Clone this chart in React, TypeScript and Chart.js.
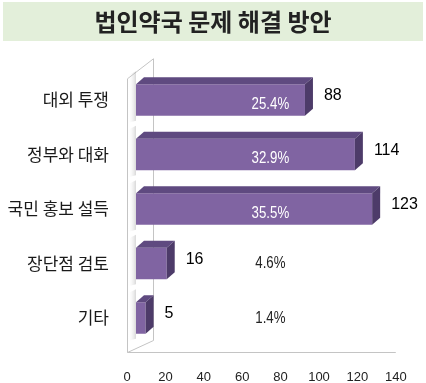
import React, { useEffect, useRef } from "react";
import { Chart, registerables } from "chart.js";

Chart.register(...registerables);

const titleText = "법인약국 문제 해결 방안";
const categories = ["대외 투쟁", "정부와 대화", "국민 홍보 설득", "장단점 검토", "기타"];
const counts = [88, 114, 123, 16, 5];
const percents = ["25.4%", "32.9%", "35.5%", "4.6%", "1.4%"];
const percentAnchor = 70;
const xMin = 0;
const xMax = 140;
const xStep = 20;

const FRONT = "#8064a2";
const TOP = "#5f4a80";
const SIDE = "#4d3b69";
const DX = 8;
const DY = -7;
const AXIS_SHIFT = -9;

const depthPlugin = {
  id: "depth3d",
  beforeDraw(chart: any) {
    const { ctx } = chart;
    ctx.save();
    ctx.fillStyle = "#e3efda";
    ctx.fillRect(3, 2, 420, 39);
    ctx.restore();
  },
  beforeDatasetsDraw(chart: any) {
    const { ctx, chartArea, scales } = chart;
    const x = scales.x;
    const fx = Math.round(x.getPixelForValue(xMin) + AXIS_SHIFT) + 0.5;
    const bx = fx + 26;
    const tf = chartArea.top + 6;
    const tb = tf - 20;
    const bf = Math.round(chartArea.bottom + 7) + 0.5;
    const bb = bf - 12;
    ctx.save();
    ctx.strokeStyle = "#c4c4c4";
    ctx.lineWidth = 1;
    ctx.beginPath();
    ctx.moveTo(fx, bf);
    ctx.lineTo(fx, tf);
    ctx.lineTo(bx, tb);
    ctx.lineTo(bx, bb);
    ctx.closePath();
    ctx.stroke();
    ctx.beginPath();
    ctx.moveTo(fx, bf);
    ctx.lineTo(x.getPixelForValue(xMax) + AXIS_SHIFT, bf);
    ctx.stroke();
    const meta = chart.getDatasetMeta(0);
    meta.data.forEach((bar: any) => {
      const p = bar.getProps(["x", "y", "base", "height"], true);
      const top = p.y - p.height / 2;
      const g = ctx.createLinearGradient(p.base - 8, 0, p.base + 2, 0);
      g.addColorStop(0, "rgba(255,255,255,0)");
      g.addColorStop(1, "rgba(120,120,120,0.45)");
      ctx.fillStyle = g;
      ctx.beginPath();
      ctx.moveTo(p.base - 8, top + DY - 2);
      ctx.lineTo(p.base, top + DY - 6);
      ctx.lineTo(p.base, top + p.height + 5);
      ctx.lineTo(p.base - 8, top + p.height + 7);
      ctx.closePath();
      ctx.fill();
    });
    ctx.restore();
  },
  afterDatasetsDraw(chart: any) {
    const { ctx, scales } = chart;
    const x = scales.x;
    const meta = chart.getDatasetMeta(0);
    ctx.save();
    meta.data.forEach((bar: any, i: number) => {
      const p = bar.getProps(["x", "y", "base", "height"], true);
      const top = p.y - p.height / 2;
      const bottom = p.y + p.height / 2;
      ctx.fillStyle = TOP;
      ctx.beginPath();
      ctx.moveTo(p.base, top);
      ctx.lineTo(p.base + DX, top + DY);
      ctx.lineTo(p.x + DX, top + DY);
      ctx.lineTo(p.x, top);
      ctx.closePath();
      ctx.fill();
      ctx.fillStyle = SIDE;
      ctx.beginPath();
      ctx.moveTo(p.x, top);
      ctx.lineTo(p.x + DX, top + DY);
      ctx.lineTo(p.x + DX, bottom + DY);
      ctx.lineTo(p.x, bottom);
      ctx.closePath();
      ctx.fill();
      ctx.fillStyle = "#000";
      ctx.font = "16px 'Liberation Sans', sans-serif";
      ctx.textAlign = "left";
      ctx.textBaseline = "middle";
      ctx.fillText(String(counts[i]), p.x + 19, p.y - 4);
      const px = x.getPixelForValue(percentAnchor);
      const inside = px < p.x;
      ctx.save();
      ctx.fillStyle = inside ? "#ffffff" : "#222222";
      ctx.font = "17px 'Liberation Sans', sans-serif";
      ctx.textAlign = "center";
      ctx.translate(px, p.y + (inside ? 4 : 0));
      ctx.scale(0.78, 1);
      ctx.fillText(percents[i], 0, 0);
      ctx.restore();
    });
    ctx.restore();
  },
};

export default function App() {
  const ref = useRef<HTMLCanvasElement | null>(null);
  useEffect(() => {
    if (!ref.current) return;
    const chart = new Chart(ref.current, {
      type: "bar",
      data: {
        labels: categories,
        datasets: [
          {
            data: counts,
            backgroundColor: FRONT,
            borderWidth: 0,
            categoryPercentage: 1,
            barPercentage: 0.58,
          },
        ],
      },
      options: {
        indexAxis: "y",
        animation: false,
        responsive: false,
        layout: { padding: 0 },
        plugins: {
          legend: { display: false },
          tooltip: { enabled: false },
          title: {
            display: true,
            text: titleText,
            color: "#222222",
            font: { size: 24, family: "'Noto Sans CJK KR', sans-serif", weight: "bold", lineHeight: 1.25 },
            padding: { top: 6.5, bottom: 36.25 },
          },
        },
        scales: {
          x: {
            min: xMin,
            max: xMax,
            grid: { display: false },
            border: { display: false },
            ticks: {
              stepSize: xStep,
              labelOffset: AXIS_SHIFT,
              padding: 16,
              color: "#222222",
              font: { size: 13, family: "'Liberation Sans', sans-serif" },
            },
            afterFit(scale: any) {
              scale.height = 37.75;
              scale.paddingRight = 21.2;
              scale.paddingLeft = 0;
            },
          },
          y: {
            grid: { display: false, drawTicks: false },
            border: { display: false },
            ticks: {
              padding: 27,
              color: "#1a1a1a",
              font: { size: 17, family: "'Noto Sans CJK KR', sans-serif" },
            },
            afterFit(scale: any) {
              scale.width = 136;
            },
          },
        },
      },
      plugins: [depthPlugin],
    });
    return () => chart.destroy();
  }, []);
  return (
    <div style={{ position: "absolute", left: 0, top: 0, width: 426, height: 383 }}>
      <canvas ref={ref} width={426} height={383} />
    </div>
  );
}
